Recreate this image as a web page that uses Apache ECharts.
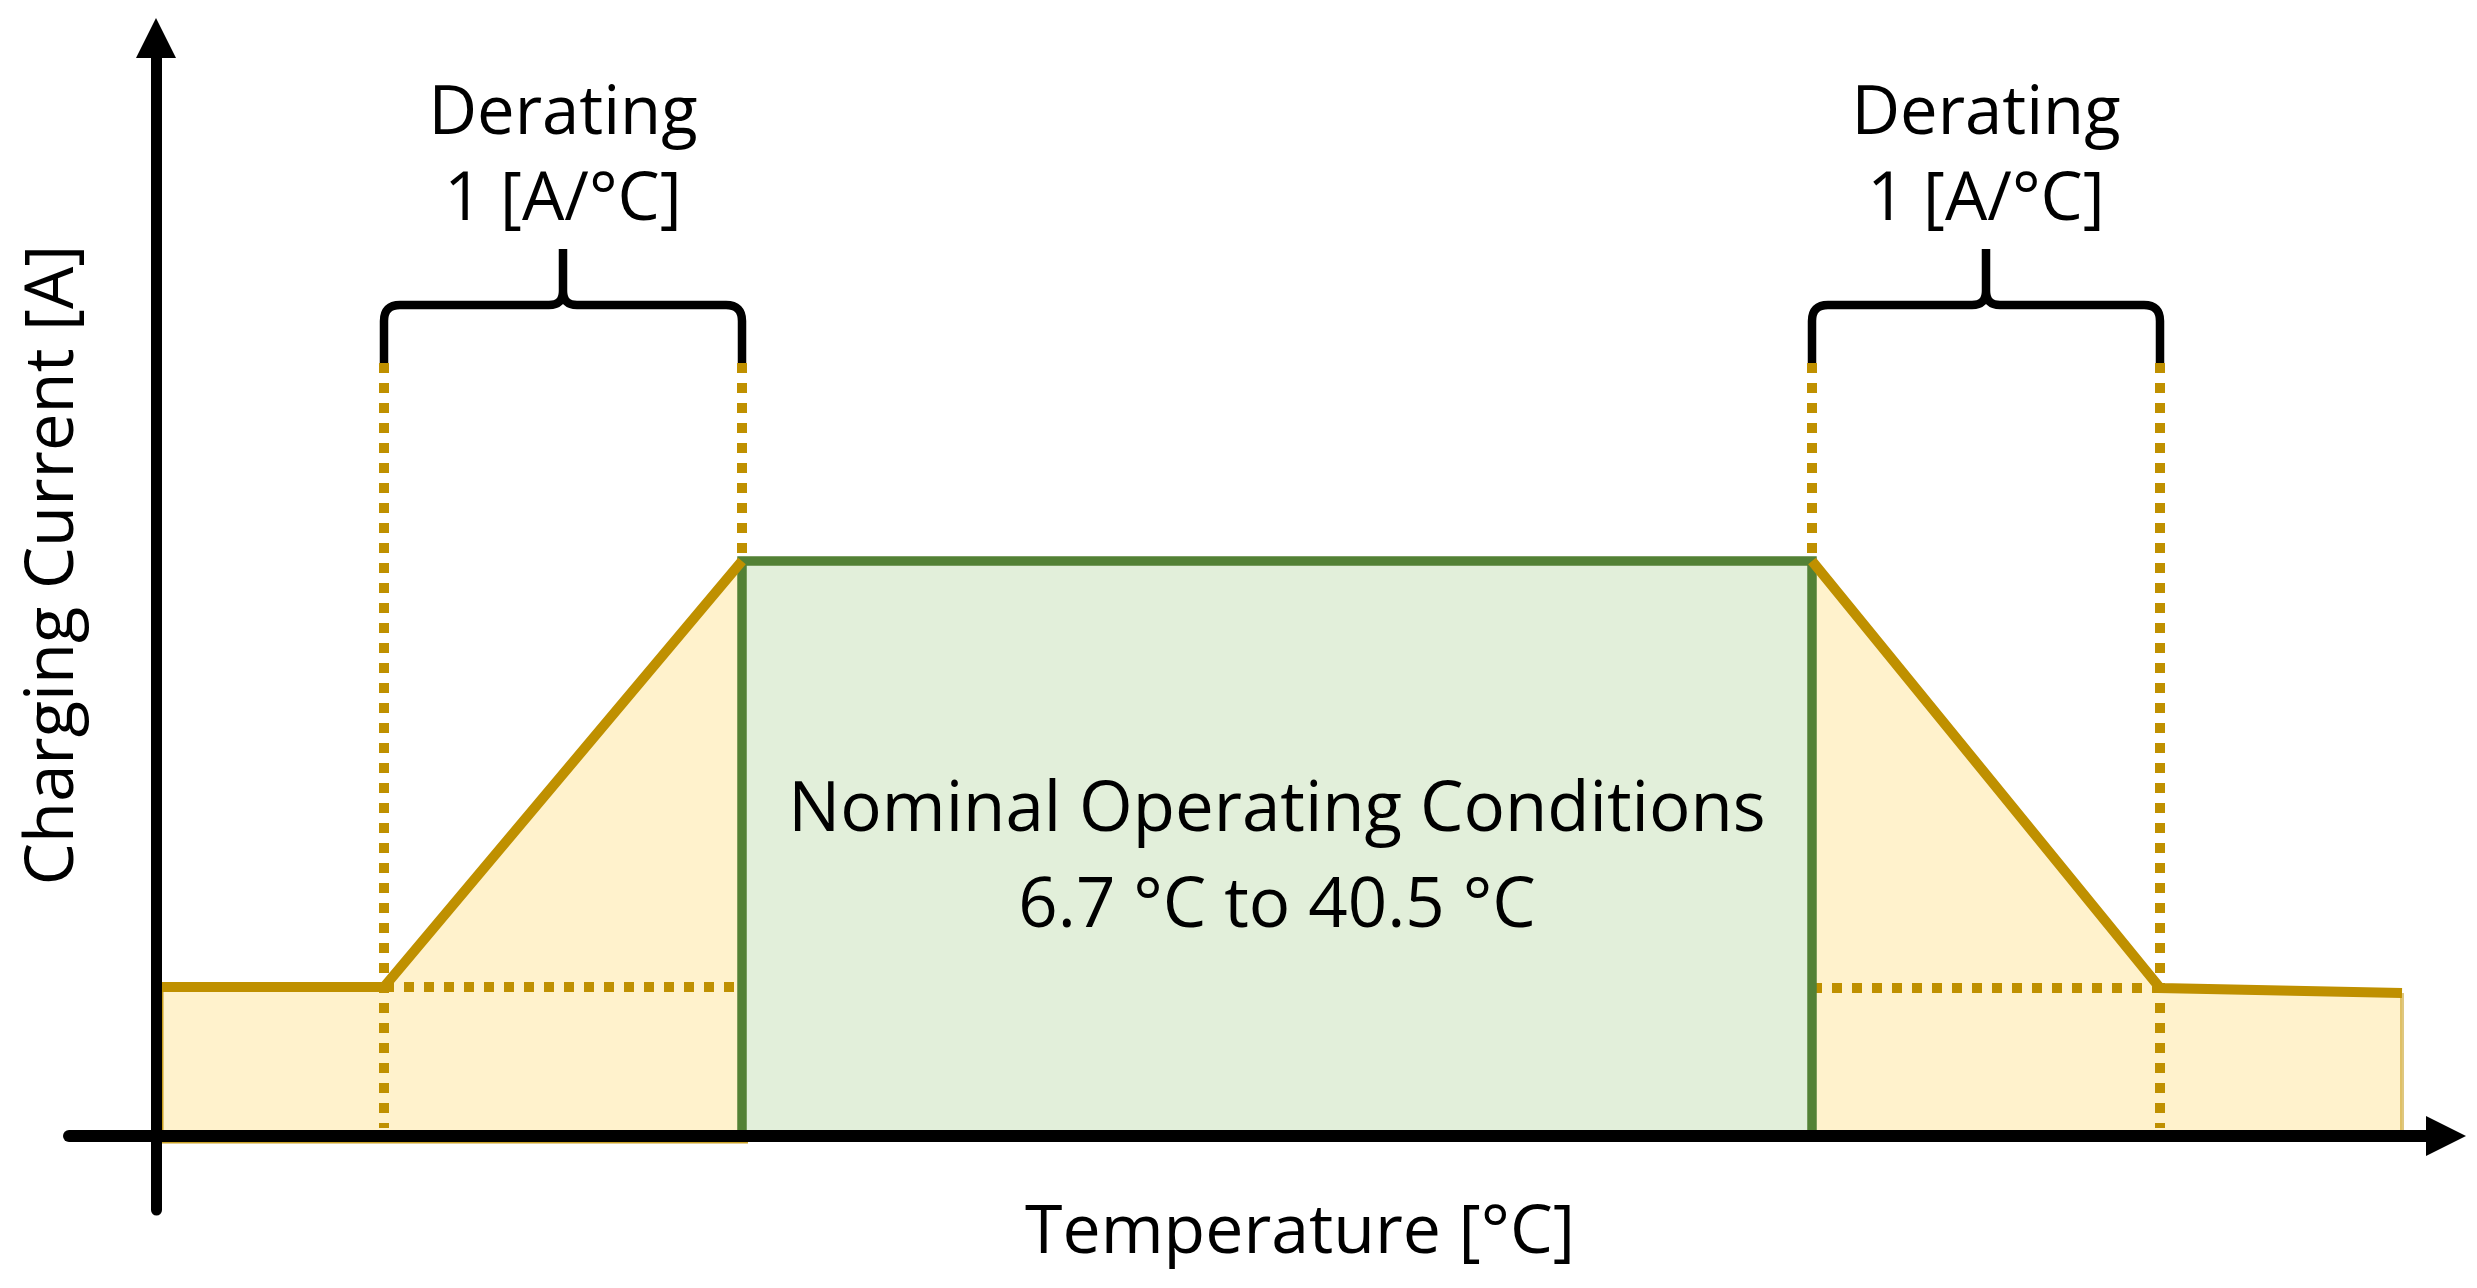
<!DOCTYPE html>
<html><head><meta charset="utf-8">
<script src="https://cdn.jsdelivr.net/npm/echarts@6/dist/echarts.min.js"></script>
<style>html,body{margin:0;padding:0;background:#fff}#c{width:2477px;height:1288px}</style>
</head><body><div id="c"></div>
<script>
// ---- Data (schematic diagram, abstract axis units) ----
const profileX = [0.6, 22.8, 58.6, 165.6, 200.4, 224.6];
const profileY = [14.9, 14.9, 57.5, 57.5, 14.8, 14.3];
const nominalRange = [58.6, 165.6];
const nominalLevel = 57.5;
const deratingRanges = [[22.8, 58.6], [165.6, 200.4]];
const guideTop = 77.3;
const deratingLabels = ['Derating\n1 [A/°C]', 'Derating\n1 [A/°C]'];
const nominalLabel = ['Nominal Operating Conditions', '6.7 °C to 40.5 °C'];
const xAxisTitle = 'Temperature [°C]';
const yAxisTitle = 'Charging Current [A]';

// ---- Styles ----
const GOLD = '#BF9000', GOLD_FILL = '#FFF2CC', GREEN = '#538135', GREEN_FILL = '#E2EFDA';
const FONT = '"Open Sans", "Noto Sans", sans-serif';

const leftPts = [0, 1, 2].map(i => [profileX[i], profileY[i]]);
const rightPts = [3, 4, 5].map(i => [profileX[i], profileY[i]]);

function areaSeries(pts) {
  return { type: 'line', data: pts, symbol: 'none', silent: true, z: 2,
    lineStyle: { width: 0 }, areaStyle: { color: GOLD_FILL, opacity: 1 } };
}
function lineSeries(pts, color, width, dash, z) {
  return { type: 'line', data: pts, symbol: 'none', silent: true, z: z,
    lineStyle: { color: color, width: width, type: dash || 'solid', cap: 'butt', join: 'miter' } };
}

const dottedPts = [
  [[deratingRanges[0][0], guideTop], [deratingRanges[0][0], 0.8]],
  [[deratingRanges[0][1], guideTop], [deratingRanges[0][1], nominalLevel]],
  [[deratingRanges[1][0], guideTop], [deratingRanges[1][0], nominalLevel]],
  [[deratingRanges[1][1], guideTop], [deratingRanges[1][1], 0.8]],
  [[deratingRanges[0][0], profileY[1]], [deratingRanges[0][1], profileY[1]]],
  [[deratingRanges[1][0], profileY[4]], [deratingRanges[1][1], profileY[4]]]
];

const series = [
  areaSeries(leftPts),
  areaSeries(rightPts),
  lineSeries([[profileX[0], profileY[0]], [profileX[0], -0.6], [profileX[2] + 0.6, -0.6]], 'rgba(191,144,0,0.85)', 3, null, 3),
  lineSeries([[profileX[5], profileY[5]], [profileX[5], 0]], 'rgba(191,144,0,0.5)', 4, null, 3)
];
dottedPts.forEach(p => series.push(lineSeries(p, GOLD, 10, [10, 10], 3)));

series.push({
  type: 'custom', z: 4, silent: true,
  data: [[nominalRange[0], nominalLevel, nominalRange[1]]],
  renderItem: function (params, api) {
    const p1 = api.coord([api.value(0), api.value(1)]);
    const p2 = api.coord([api.value(2), 0]);
    return { type: 'group', children: [
      { type: 'rect', shape: { x: p1[0], y: p1[1], width: p2[0] - p1[0], height: p2[1] - p1[1] },
        style: { fill: GREEN_FILL, stroke: GREEN, lineWidth: 9.5 } },
      { type: 'text', x: (p1[0] + p2[0]) / 2, y: (p1[1] + p2[1]) / 2 + 11,
        style: { text: nominalLabel.join('\n'), fill: '#000', fontSize: 69, fontFamily: FONT,
          align: 'center', verticalAlign: 'middle', lineHeight: 96 } }
    ] };
  }
});

series.push(lineSeries(leftPts, GOLD, 10, null, 5));
series.push(lineSeries(rightPts, GOLD, 10, null, 5));

series.push({
  type: 'custom', z: 6, silent: true,
  data: deratingRanges.map(r => [r[0], guideTop, r[1]]),
  renderItem: function (params, api) {
    const a = api.coord([api.value(0), api.value(1)]);
    const b = api.coord([api.value(2), api.value(1)]);
    const xL = a[0], xR = b[0], yB = a[1], yM = yB - 58, yT = yB - 114, xC = (xL + xR) / 2, r = 16, r2 = 14;
    const d = `M${xL},${yB} L${xL},${yM + r} Q${xL},${yM} ${xL + r},${yM} L${xC - r2},${yM} Q${xC},${yM} ${xC},${yM - r2} L${xC},${yT} ` +
              `M${xR},${yB} L${xR},${yM + r} Q${xR},${yM} ${xR - r},${yM} L${xC + r2},${yM} Q${xC},${yM} ${xC},${yM - r2}`;
    return { type: 'group', children: [
      { type: 'path', shape: { pathData: d }, style: { fill: 'none', stroke: '#000', lineWidth: 8.5, lineJoin: 'round' } },
      { type: 'text', x: xC, y: yT - 91,
        style: { text: deratingLabels[params.dataIndex], fill: '#000', fontSize: 67, fontFamily: FONT,
          align: 'center', verticalAlign: 'middle', lineHeight: 86 } }
    ] };
  }
});

const chart = echarts.init(document.getElementById('c'), null, { renderer: 'canvas' });
chart.setOption({
  animation: false,
  backgroundColor: '#fff',
  grid: { left: 69, right: 31, top: 38, bottom: 78, containLabel: false },
  xAxis: {
    type: 'value', min: -8.7, max: 229, z: 10,
    axisLine: { show: true, onZero: true, symbol: ['none', 'triangle'], symbolSize: [40, 40],
      lineStyle: { color: '#000', width: 12 } },
    axisTick: { show: false }, axisLabel: { show: false }, splitLine: { show: false }
  },
  yAxis: {
    type: 'value', min: -7.4, max: 109.8, z: 10,
    axisLine: { show: true, onZero: true, symbol: ['none', 'triangle'], symbolSize: [40, 40],
      lineStyle: { color: '#000', width: 11 } },
    axisTick: { show: false }, axisLabel: { show: false }, splitLine: { show: false }
  },
  graphic: [
    { type: 'text', x: 1300, y: 1234, silent: true,
      style: { text: xAxisTitle, fill: '#000', fontSize: 68, fontFamily: FONT, align: 'center', verticalAlign: 'middle' } },
    { type: 'text', x: 54, y: 565, rotation: Math.PI / 2, silent: true,
      style: { text: yAxisTitle, fill: '#000', fontSize: 67, fontFamily: FONT, align: 'center', verticalAlign: 'middle' } }
  ],
  series: series
});
</script>
</body></html>
